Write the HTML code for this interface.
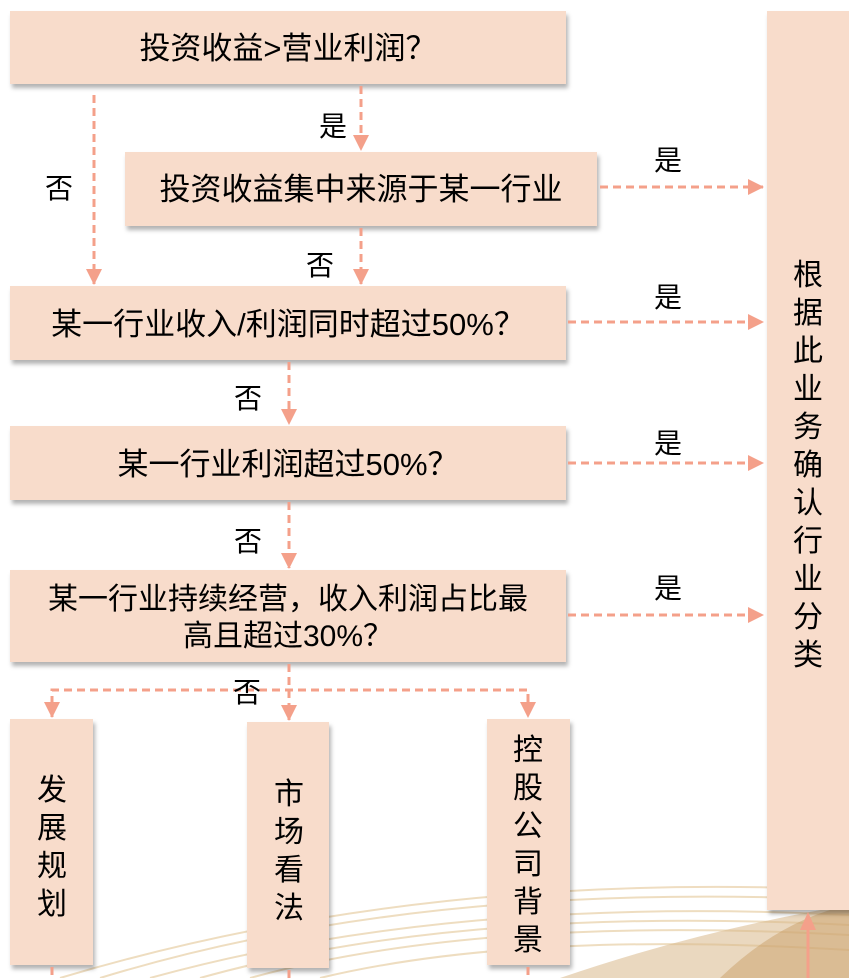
<!DOCTYPE html>
<html><head><meta charset="utf-8"><style>
html,body{margin:0;padding:0;background:#fff;}
svg{display:block;}
text{font-family:"Liberation Sans","Noto Sans CJK SC",sans-serif;fill:#000;}
</style></head><body>
<svg width="849" height="978" viewBox="0 0 849 978" xmlns="http://www.w3.org/2000/svg">
<defs>
<filter id="sh" x="-5%" y="-5%" width="115%" height="130%"><feDropShadow dx="2" dy="4" stdDeviation="2" flood-color="#000" flood-opacity="0.3"/></filter>
<marker id="ab" markerWidth="16" markerHeight="16" refX="15" refY="8" orient="auto" markerUnits="userSpaceOnUse"><path d="M0,0 L16,8 L0,16 Z" fill="#f4a08a"/></marker>
</defs>
<g fill="none" stroke="#e8cfa6" stroke-width="2" opacity="0.7">
<path d="M100,978 Q420,880 849,900"/>
<path d="M60,978 Q420,870 849,890"/>
<path d="M150,978 Q450,895 849,915"/>
<path d="M200,978 Q460,905 849,925"/>
<path d="M250,978 Q480,915 849,935"/>
<path d="M320,978 Q520,930 849,950"/>
</g>
<path d="M560,978 Q700,930 849,905 L849,978 Z" fill="#d9b88a" opacity="0.55"/>
<path d="M720,978 Q780,920 849,905 L849,978 Z" fill="#c9a06a" opacity="0.5"/>
<g fill="#f8dccb" filter="url(#sh)">
<rect x="10" y="11" width="556" height="73"/>
<rect x="125" y="152" width="472" height="74"/>
<rect x="10" y="286" width="556" height="74"/>
<rect x="10" y="426" width="556" height="74"/>
<rect x="10" y="570" width="556" height="92"/>
<rect x="767" y="11" width="90" height="899"/>
<rect x="10" y="719" width="83" height="246"/>
<rect x="247" y="722" width="82" height="246"/>
<rect x="487" y="719" width="83" height="246"/>
</g>
<g stroke="#f4a08a" stroke-width="3" stroke-dasharray="8,5" fill="none">
<line x1="94" y1="95" x2="94" y2="284" marker-end="url(#ab)"/>
<line x1="361" y1="86" x2="361" y2="150" marker-end="url(#ab)"/>
<line x1="361" y1="228" x2="361" y2="284" marker-end="url(#ab)"/>
<line x1="289" y1="362" x2="289" y2="424" marker-end="url(#ab)"/>
<line x1="289" y1="502" x2="289" y2="568" marker-end="url(#ab)"/>
<line x1="289" y1="664" x2="289" y2="720" marker-end="url(#ab)"/>
<polyline points="52,717 52,690 528,690 528,717"/>
<line x1="600" y1="187" x2="763" y2="187" marker-end="url(#ab)"/>
<line x1="568" y1="322" x2="763" y2="322" marker-end="url(#ab)"/>
<line x1="568" y1="463" x2="763" y2="463" marker-end="url(#ab)"/>
<line x1="568" y1="615" x2="763" y2="615" marker-end="url(#ab)"/>
<line x1="52" y1="967" x2="52" y2="978"/>
<line x1="289" y1="970" x2="289" y2="978"/>
<line x1="528" y1="967" x2="528" y2="978"/>
</g>
<path d="M44,702 L60,702 L52,718 Z" fill="#f4a08a"/>
<path d="M520,702 L536,702 L528,718 Z" fill="#f4a08a"/>
<line x1="808" y1="978" x2="808" y2="925" stroke="#f4a08a" stroke-width="3"/>
<path d="M800,930 L816,930 L808,912 Z" fill="#f4a08a"/>
<g font-size="31" text-anchor="middle">
<text x="288" y="59">投资收益&gt;营业利润？</text>
<text x="361" y="200">投资收益集中来源于某一行业</text>
<text x="288" y="335">某一行业收入/利润同时超过50%？</text>
<text x="288" y="475">某一行业利润超过50%？</text>
</g>
<g font-size="30" text-anchor="middle">
<text x="288" y="609">某一行业持续经营，收入利润占比最</text>
<text x="288" y="646">高且超过30%？</text>
</g>
<g font-size="28" text-anchor="middle">
<text x="333" y="136">是</text>
<text x="59" y="198">否</text>
<text x="320" y="275">否</text>
<text x="668" y="170">是</text>
<text x="668" y="307">是</text>
<text x="668" y="453">是</text>
<text x="668" y="598">是</text>
<text x="248" y="408">否</text>
<text x="248" y="551">否</text>
<text x="247" y="702">否</text>
</g>
<g font-size="30" text-anchor="middle">
<text x="808" y="285">根</text><text x="808" y="323">据</text><text x="808" y="361">此</text><text x="808" y="399">业</text><text x="808" y="437">务</text><text x="808" y="475">确</text><text x="808" y="513">认</text><text x="808" y="551">行</text><text x="808" y="589">业</text><text x="808" y="627">分</text><text x="808" y="665">类</text>
</g>
<g font-size="30" text-anchor="middle">
<text x="52" y="800">发</text><text x="52" y="838">展</text><text x="52" y="876">规</text><text x="52" y="914">划</text>
<text x="289" y="804">市</text><text x="289" y="842">场</text><text x="289" y="880">看</text><text x="289" y="918">法</text>
<text x="528" y="760">控</text><text x="528" y="798">股</text><text x="528" y="836">公</text><text x="528" y="874">司</text><text x="528" y="912">背</text><text x="528" y="950">景</text>
</g>
</svg>
</body></html>
